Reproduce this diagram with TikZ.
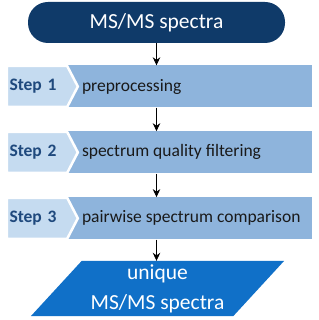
\documentclass[tikz,border=0pt]{standalone}
\usepackage{fontspec}
\setmainfont{Carlito}
\usetikzlibrary{arrows.meta, positioning, shapes.symbols, backgrounds}
\definecolor{spectranavy}{RGB}{15,58,105}
\definecolor{bandblue}{RGB}{142,180,220}
\definecolor{tabblue}{RGB}{197,219,240}
\definecolor{uniqueblue}{RGB}{16,112,200}
\definecolor{steptext}{RGB}{31,73,125}

\begin{document}
\begin{tikzpicture}[
    x=1pt, y=-1pt,
    source/.style={rectangle, rounded corners=20pt, fill=spectranavy, text=white, minimum width=257pt, minimum height=41pt, inner sep=0pt, font=\fontsize{21.5pt}{25pt}\selectfont},
    band/.style={rectangle, fill=bandblue, minimum width=249pt, minimum height=42pt, inner sep=0pt},
    tab/.style={signal, signal to=east, signal pointer angle=125, fill=tabblue, draw=white, line width=2.5pt, minimum width=71pt, minimum height=41pt, text width=55pt, align=left, inner sep=0pt, text=steptext, font=\fontsize{17.5pt}{21pt}\selectfont\bfseries},
    body/.style={inner sep=0pt, text=black!90, font=\fontsize{17.5pt}{21pt}\selectfont},
    result/.style={rectangle, text=white, minimum width=151pt, minimum height=55pt, inner sep=0pt, align=center, font=\fontsize{21.5pt}{30pt}\selectfont},
    arr/.style={-{Stealth[length=8pt, width=7.5pt]}, line width=0.8pt}
  ]
  \useasboundingbox (0,0) rectangle (318,320);
  \node[source] (src) at (156.5,22.5) {MS/MS spectra};
  % the three steps
  \node[band] (b1) at (187.5,86.5) {};
  \node[band, below=23.5pt of b1] (b2) {};
  \node[band, below=23.5pt of b2] (b3) {};
  \node[tab] (s1) at (37,86.5) {Step 1};
  \node[tab] (s2) at (s1 |- b2) {Step 2};
  \node[tab] (s3) at (s1 |- b3) {Step 3};
  \node[body, right=19pt of b1.west] (t1) {preprocessing};
  \node[body, right=19pt of b2.west] (t2) {spectrum quality filtering};
  \node[body, right=19pt of b3.west] (t3) {pairwise spectrum comparison};
  \node[result] (out) at (157.5,288.5) {unique\\MS/MS spectra};
  \begin{scope}[on background layer]
    \fill[uniqueblue] (out.north west) -- ([xshift=51pt]out.north east)
      -- (out.south east) -- ([xshift=-51pt]out.south west) -- cycle;
  \end{scope}
  \draw[arr] (src.south) -- (src.south |- b1.north);
  \draw[arr] (src.south |- b1.south) -- (src.south |- b2.north);
  \draw[arr] (src.south |- b2.south) -- (src.south |- b3.north);
  \draw[arr] (src.south |- b3.south) -- (src.south |- out.north);
\end{tikzpicture}
\end{document}
